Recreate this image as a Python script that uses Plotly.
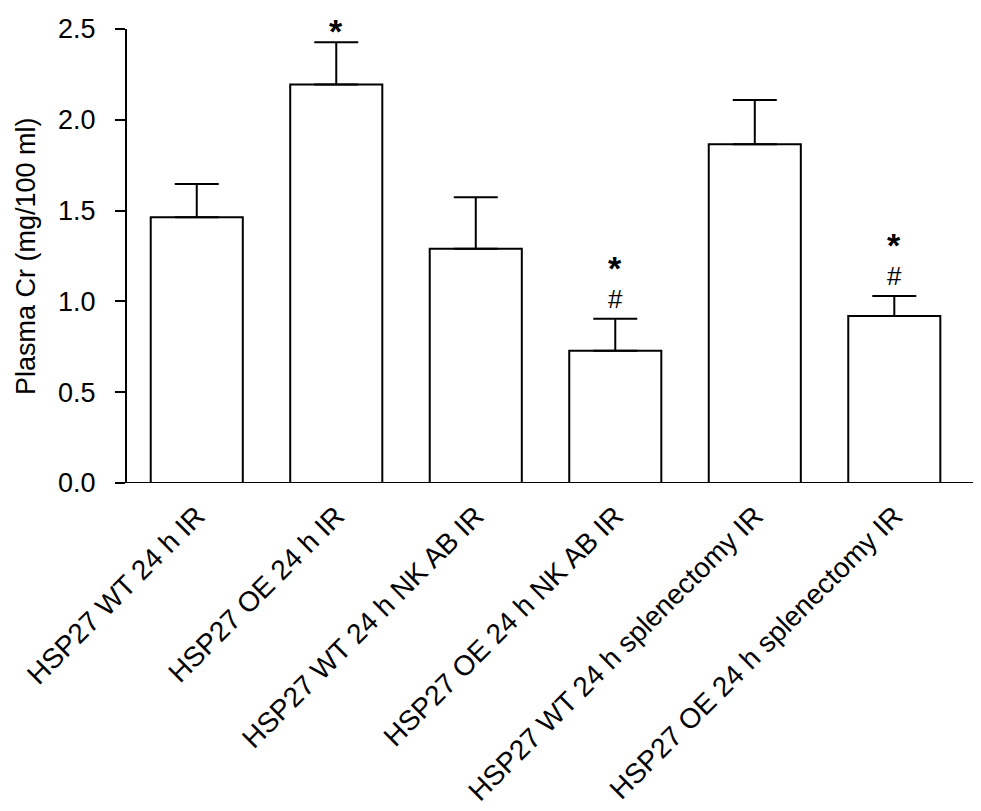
import plotly.graph_objects as go

categories = [
    "HSP27 WT 24 h IR",
    "HSP27 OE 24 h IR",
    "HSP27 WT 24 h NK AB IR",
    "HSP27 OE 24 h NK AB IR",
    "HSP27 WT 24 h splenectomy IR",
    "HSP27 OE 24 h splenectomy IR",
]
means = [1.464, 2.195, 1.29, 0.728, 1.866, 0.919]
errors = [0.182, 0.232, 0.283, 0.177, 0.243, 0.111]
marks = ["", "*", "", "*<br>#", "", "*<br>#"]
y_ticks = [0.0, 0.5, 1.0, 1.5, 2.0, 2.5]
y_tick_labels = ["0.0", "0.5", "1.0", "1.5", "2.0", "2.5"]

FONT = "Liberation Sans, Arial, Helvetica, sans-serif"

fig = go.Figure()
fig.add_trace(go.Bar(
    x=list(range(len(categories))),
    y=means,
    width=0.66,
    marker=dict(color="white", line=dict(color="black", width=2)),
    error_y=dict(type="data", array=errors, arrayminus=[0] * len(errors),
                 symmetric=False, color="black", thickness=2, width=22),
    showlegend=False,
))

# significance marks
for i, (m, e, s) in enumerate(zip(means, errors, marks)):
    if not s:
        continue
    top = m + e
    if "#" in s:
        fig.add_annotation(x=i, y=top, yref="y", xref="x", text="#",
                           showarrow=False, yanchor="bottom", yshift=3,
                           font=dict(family=FONT, size=26, color="black"))
        fig.add_annotation(x=i, y=top, yref="y", xref="x", text="<b>*</b>",
                           showarrow=False, yanchor="bottom", yshift=30,
                           font=dict(family=FONT, size=34, color="black"))
    else:
        fig.add_annotation(x=i, y=top, yref="y", xref="x", text="<b>*</b>",
                           showarrow=False, yanchor="bottom", yshift=-10,
                           font=dict(family=FONT, size=34, color="black"))

# y-axis title
fig.add_annotation(xref="paper", yref="paper", x=-101 / 851, y=0.5,
                   text="Plasma Cr (mg/100 ml)", textangle=-90, showarrow=False,
                   xanchor="center", yanchor="middle",
                   font=dict(family=FONT, size=27, color="black"))

# x axis baseline extending slightly left of the y axis
fig.add_shape(type="line", xref="paper", yref="y", x0=-10 / 851, x1=1, y0=0, y1=0,
              line=dict(color="black", width=2))

fig.update_layout(
    width=973, height=803,
    margin=dict(l=119, r=3, t=21, b=328, autoexpand=False),
    paper_bgcolor="white", plot_bgcolor="white",
    font=dict(family=FONT, size=27, color="black"),
    xaxis=dict(
        range=[-0.5, 5.6],
        automargin=False,
        tickmode="array",
        tickvals=list(range(len(categories))),
        ticktext=categories,
        tickangle=-45,
        showline=False, showgrid=False, zeroline=False, ticks="",
        ticklabelstandoff=10,
        tickfont=dict(family=FONT, size=28, color="black"),
    ),
    yaxis=dict(
        range=[0, 2.5],
        automargin=False,
        tickmode="array",
        tickvals=y_ticks,
        ticktext=y_tick_labels,
        showline=True, linecolor="black", linewidth=2,
        ticks="outside", ticklen=10, tickwidth=2, tickcolor="black",
        showgrid=False, zeroline=False,
        ticklabelstandoff=14,
        tickfont=dict(family=FONT, size=27, color="black"),
    ),
)

fig.write_html("out.html")
